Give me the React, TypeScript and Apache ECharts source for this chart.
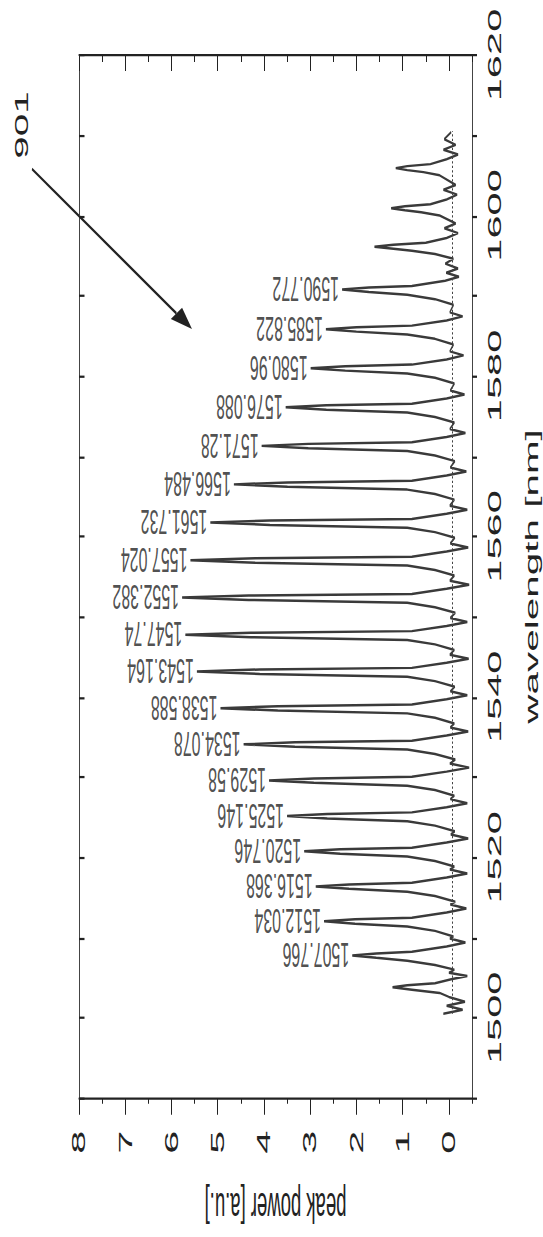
import React, { useEffect, useRef } from "react";
import * as echarts from "echarts";

// vertical stretch of the reference (chart drawn in a 543x550 box, stretched to 1237)
const K = 1237 / 550;

const powerTicks = [0, 1, 2, 3, 4, 5, 6, 7, 8];
const wavelengthTicks = [1500, 1520, 1540, 1560, 1580, 1600, 1620];

const peakWavelengths = [
  1507.766, 1512.034, 1516.368, 1520.746, 1525.146, 1529.58, 1534.078, 1538.588,
  1543.164, 1547.74, 1552.382, 1557.024, 1561.732, 1566.484, 1571.28, 1576.088,
  1580.96, 1585.822, 1590.772,
];
const peakPowers = [
  2.09, 2.7, 2.88, 3.13, 3.5, 3.89, 4.44, 4.94, 5.45, 5.7, 5.77, 5.59, 5.16, 4.65,
  4.05, 3.53, 2.99, 2.66, 2.31,
];
const peakLabels = [
  "1507.766", "1512.034", "1516.368", "1520.746", "1525.146", "1529.58", "1534.078",
  "1538.588", "1543.164", "1547.74", "1552.382", "1557.024", "1561.732", "1566.484",
  "1571.28", "1576.088", "1580.96", "1585.822", "1590.772",
];

// [wavelength nm, peak power a.u.]
const spectrum = [
  [1500.5, 0.12], [1501.0, -0.3], [1501.5, 0.05], [1502.0, -0.35], [1502.6, 0.0],
  [1503.1, 0.2], [1503.5, 0.8], [1503.8, 1.22], [1504.05, 0.9], [1504.3, 0.3], [1504.8, -0.05], [1505.2, -0.4], [1505.6, 0.0],
  [1506.0, -0.12], [1506.57, 0.3], [1507.12, 0.9], [1507.47, 1.57], [1507.766, 2.09], [1508.02, 1.57], [1508.22, 0.8], [1508.87, 0.05], [1509.37, -0.36], [1509.87, -0.02],
  [1510.13, -0.1], [1510.83, 0.3], [1511.38, 0.9], [1511.73, 2.03], [1512.034, 2.7], [1512.28, 2.03], [1512.48, 0.8], [1513.13, 0.05], [1513.63, -0.38], [1514.13, -0.03],
  [1514.47, -0.14], [1515.17, 0.3], [1515.72, 0.9], [1516.07, 2.16], [1516.368, 2.88], [1516.62, 2.16], [1516.82, 0.8], [1517.47, 0.05], [1517.97, -0.4], [1518.47, -0.02],
  [1518.85, -0.12], [1519.55, 0.3], [1520.1, 0.9], [1520.45, 2.35], [1520.746, 3.13], [1521.0, 2.35], [1521.2, 0.8], [1521.85, 0.05], [1522.35, -0.42], [1522.85, -0.04],
  [1523.25, -0.13], [1523.95, 0.3], [1524.5, 0.9], [1524.85, 2.63], [1525.146, 3.5], [1525.4, 2.63], [1525.6, 0.8], [1526.25, 0.05], [1526.75, -0.4], [1527.25, -0.03],
  [1527.68, -0.12], [1528.38, 0.3], [1528.93, 0.9], [1529.28, 2.92], [1529.58, 3.89], [1529.83, 2.92], [1530.03, 0.8], [1530.68, 0.05], [1531.18, -0.44], [1531.68, -0.02],
  [1532.18, -0.14], [1532.88, 0.3], [1533.43, 0.9], [1533.78, 3.33], [1534.078, 4.44], [1534.33, 3.33], [1534.53, 0.8], [1535.18, 0.05], [1535.68, -0.42], [1536.18, -0.03],
  [1536.69, -0.12], [1537.39, 0.3], [1537.94, 0.9], [1538.29, 3.7], [1538.588, 4.94], [1538.84, 3.7], [1539.04, 0.8], [1539.69, 0.05], [1540.19, -0.4], [1540.69, -0.03],
  [1541.26, -0.13], [1541.96, 0.3], [1542.51, 0.9], [1542.86, 4.09], [1543.164, 5.45], [1543.41, 4.09], [1543.61, 0.8], [1544.26, 0.05], [1544.76, -0.43], [1545.26, -0.02],
  [1545.84, -0.12], [1546.54, 0.3], [1547.09, 0.9], [1547.44, 4.28], [1547.74, 5.7], [1547.99, 4.28], [1548.19, 0.8], [1548.84, 0.05], [1549.34, -0.4], [1549.84, -0.03],
  [1550.48, -0.14], [1551.18, 0.3], [1551.73, 0.9], [1552.08, 4.33], [1552.382, 5.77], [1552.63, 4.33], [1552.83, 0.8], [1553.48, 0.05], [1553.98, -0.44], [1554.48, -0.02],
  [1555.12, -0.12], [1555.82, 0.3], [1556.37, 0.9], [1556.72, 4.19], [1557.024, 5.59], [1557.27, 4.19], [1557.47, 0.8], [1558.12, 0.05], [1558.62, -0.42], [1559.12, -0.03],
  [1559.83, -0.13], [1560.53, 0.3], [1561.08, 0.9], [1561.43, 3.87], [1561.732, 5.16], [1561.98, 3.87], [1562.18, 0.8], [1562.83, 0.05], [1563.33, -0.4], [1563.83, -0.02],
  [1564.58, -0.12], [1565.28, 0.3], [1565.83, 0.9], [1566.18, 3.49], [1566.484, 4.65], [1566.73, 3.49], [1566.93, 0.8], [1567.58, 0.05], [1568.08, -0.38], [1568.58, -0.03],
  [1569.38, -0.13], [1570.08, 0.3], [1570.63, 0.9], [1570.98, 3.04], [1571.28, 4.05], [1571.53, 3.04], [1571.73, 0.8], [1572.38, 0.05], [1572.88, -0.36], [1573.38, -0.02],
  [1574.19, -0.12], [1574.89, 0.3], [1575.44, 0.9], [1575.79, 2.65], [1576.088, 3.53], [1576.34, 2.65], [1576.54, 0.8], [1577.19, 0.05], [1577.69, -0.34], [1578.19, -0.03],
  [1579.06, -0.12], [1579.76, 0.3], [1580.31, 0.9], [1580.66, 2.24], [1580.96, 2.99], [1581.21, 2.24], [1581.41, 0.8], [1582.06, 0.05], [1582.56, -0.32], [1583.06, -0.02],
  [1583.92, -0.1], [1584.62, 0.3], [1585.17, 0.9], [1585.52, 2.0], [1585.822, 2.66], [1586.07, 2.0], [1586.27, 0.8], [1586.92, 0.05], [1587.42, -0.3], [1587.92, -0.02],
  [1588.87, -0.1], [1589.57, 0.3], [1590.12, 0.9], [1590.47, 1.73], [1590.772, 2.31], [1591.02, 1.73], [1591.22, 0.8], [1591.87, 0.08], [1592.37, -0.22], [1592.87, 0.06], [1593.4, -0.2], [1594.0, 0.08],
  [1594.6, -0.1], [1595.2, 0.3], [1595.6, 0.8], [1595.85, 1.2], [1596.1, 1.61], [1596.35, 1.2], [1596.6, 0.5], [1597.2, 0.05], [1597.8, -0.2], [1598.4, 0.1], [1599.0, -0.15],
  [1600.0, 0.2], [1600.4, 0.6], [1600.65, 0.95], [1600.9, 1.25], [1601.15, 0.95], [1601.4, 0.4], [1602.0, 0.05], [1602.6, -0.18], [1603.2, 0.12], [1603.8, -0.15],
  [1605.0, 0.2], [1605.4, 0.55], [1605.65, 0.9], [1605.9, 1.15], [1606.15, 0.9], [1606.4, 0.4], [1607.0, 0.05], [1607.6, -0.2], [1608.2, 0.12], [1608.8, -0.15], [1609.5, 0.1], [1610.4, -0.05],
];

const baselinePower = -0.07;
const baselineRange = [1500.5, 1610.5];

const FONT = "'Liberation Sans', Arial, sans-serif";
const INK = "#222";

// real-pixel annotation geometry converted to the unstretched box
const ry = (y: number) => y / K;

export default function App() {
  const ref = useRef<HTMLDivElement>(null);

  useEffect(() => {
    if (!ref.current) return;
    const chart = echarts.init(ref.current, undefined, { renderer: "svg" });

    const commonX = { type: "value", min: -0.5, max: 8, inverse: true, splitLine: { show: false } };
    const commonY = { type: "value", min: 1490, max: 1620, interval: 10, splitLine: { show: false } };

    chart.setOption({
      animation: false,
      backgroundColor: "#fff",
      textStyle: { fontFamily: FONT },
      grid: {
        left: 79,
        right: 71,
        top: ry(55),
        bottom: 550 - ry(1098),
        containLabel: false,
        outerBoundsMode: "none",
      },
      xAxis: [
        {
          ...commonX,
          position: "bottom",
          interval: 0.5,
          axisLine: { show: true, onZero: false, lineStyle: { color: INK, width: 1 } },
          axisTick: { show: true, inside: false, length: 2.6, lineStyle: { color: INK } },
          axisLabel: {
            show: true,
            customValues: powerTicks,
            formatter: (v: number) => (Number.isInteger(v) && v >= 0 ? String(v) : ""),
            rotate: 90,
            margin: 14.5,
            fontSize: 18.5,
            fontFamily: FONT,
            color: INK,
          },
          name: "peak power [a.u.]",
          nameLocation: "middle",
          nameRotate: 180,
          nameGap: 39,
          nameTextStyle: { fontSize: 18.5, fontFamily: FONT, color: INK },
        },
        {
          ...commonX,
          position: "bottom",
          axisLine: { show: false, onZero: false },
          axisTick: { show: true, inside: false, customValues: powerTicks, length: 7.5, lineStyle: { color: INK } },
          axisLabel: { show: false },
        },
        {
          ...commonX,
          position: "top",
          interval: 0.5,
          axisLine: { show: true, onZero: false, lineStyle: { color: INK, width: 1 } },
          axisTick: { show: true, inside: true, length: 3.1, lineStyle: { color: INK } },
          axisLabel: { show: false },
        },
        {
          ...commonX,
          position: "top",
          axisLine: { show: false, onZero: false },
          axisTick: { show: true, inside: true, customValues: powerTicks, length: 7.1, lineStyle: { color: INK } },
          axisLabel: { show: false },
        },
      ],
      yAxis: [
        {
          ...commonY,
          position: "right",
          axisLine: { show: true, onZero: false, lineStyle: { color: "#444", width: 1 } },
          axisTick: { show: true, inside: false, length: 5, lineStyle: { color: INK } },
          axisLabel: {
            show: true,
            customValues: wavelengthTicks,
            formatter: (v: number) => (v % 20 === 0 ? String(v) : ""),
            rotate: 90,
            margin: 13,
            fontSize: 18.5,
            fontFamily: FONT,
            color: INK,
          },
          name: "wavelength [nm]",
          nameLocation: "middle",
          nameRotate: 90,
          nameGap: 51,
          nameTextStyle: { fontSize: 18, fontFamily: FONT, color: INK },
        },
        {
          ...commonY,
          position: "left",
          axisLine: { show: true, onZero: false, lineStyle: { color: "#444", width: 1 } },
          axisTick: { show: true, inside: true, length: 5.5, lineStyle: { color: INK } },
          axisLabel: { show: false },
        },
      ],
      series: [
        {
          type: "line",
          xAxisIndex: 0,
          yAxisIndex: 0,
          data: spectrum.map(([w, p]) => [p, w]),
          symbol: "none",
          smooth: false,
          clip: false,
          lineStyle: { color: "#3a3a3a", width: 1.1 },
          markLine: {
            silent: true,
            symbol: "none",
            label: { show: false },
            lineStyle: { type: "dotted", color: "#444", width: 1 },
            data: [
              [
                { coord: [baselinePower, baselineRange[0]] },
                { coord: [baselinePower, baselineRange[1]] },
              ],
            ],
          },
        },
        {
          type: "scatter",
          xAxisIndex: 0,
          yAxisIndex: 0,
          symbolSize: 0,
          silent: true,
          data: peakWavelengths.map((w, i) => [peakPowers[i], w]),
          label: {
            show: true,
            position: "left",
            distance: 3,
            rotate: 180,
            align: "left",
            verticalAlign: "middle",
            fontSize: 16,
            fontFamily: FONT,
            color: INK,
            formatter: (p: any) => peakLabels[p.dataIndex],
          },
        },
      ],
      graphic: [
        {
          type: "line",
          shape: { x1: 32, y1: ry(169), x2: 176.4, y2: ry(313.4) },
          style: { stroke: INK, lineWidth: 1.3 },
          silent: true,
        },
        {
          type: "polygon",
          shape: {
            points: [
              [192, ry(329)],
              [170.8, ry(319.1)],
              [182.1, ry(307.8)],
            ],
          },
          style: { fill: INK },
          silent: true,
        },
        {
          type: "text",
          x: 22,
          y: ry(125),
          rotation: Math.PI / 2,
          style: {
            text: "901",
            fontSize: 18,
            fontFamily: FONT,
            fill: INK,
            align: "center",
            verticalAlign: "middle",
          },
          silent: true,
        },
      ],
    });

    return () => chart.dispose();
  }, []);

  return (
    <div
      style={{
        position: "absolute",
        left: 0,
        top: 0,
        width: 543,
        height: 1237,
        overflow: "hidden",
        background: "#fff",
      }}
    >
      <div
        ref={ref}
        style={{
          width: 543,
          height: 550,
          transform: `scaleY(${K})`,
          transformOrigin: "0 0",
        }}
      />
    </div>
  );
}
